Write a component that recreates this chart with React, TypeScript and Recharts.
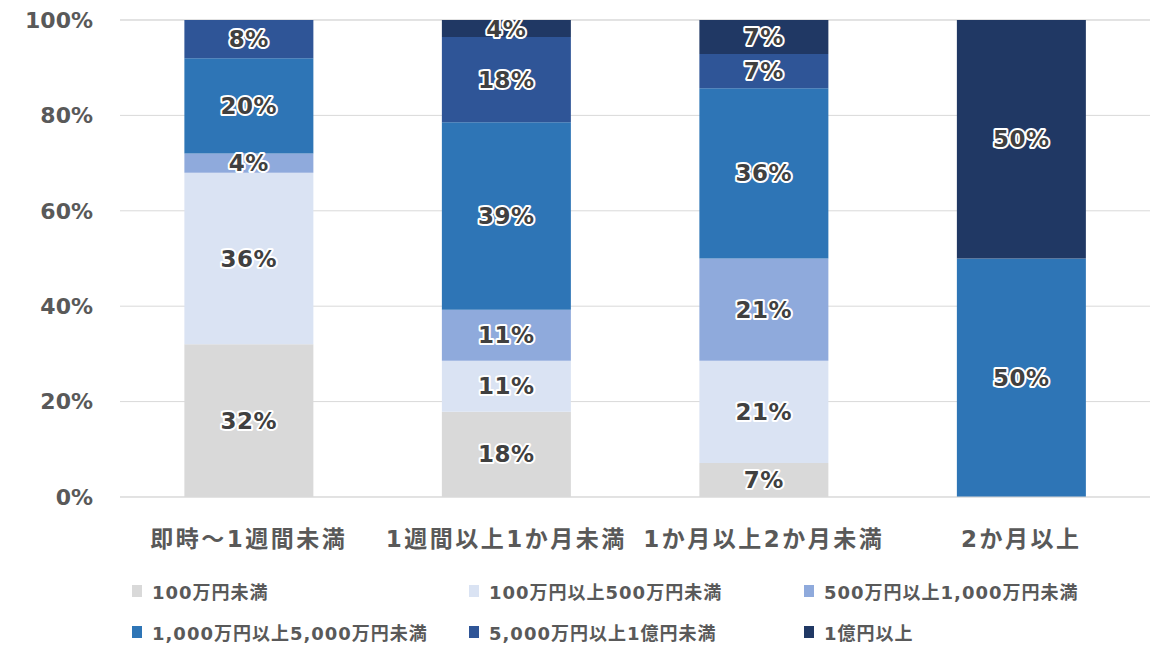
import React from 'react';
import { BarChart, Bar, XAxis, YAxis, CartesianGrid, LabelList } from 'recharts';

const categories = ['即時～1週間未満', '1週間以上1か月未満', '1か月以上2か月未満', '2か月以上'];

const under100 = [32, 17.86, 7.14, 0];
const from100to500 = [36, 10.71, 21.43, 0];
const from500to1000 = [4, 10.71, 21.43, 0];
const from1000to5000 = [20, 39.29, 35.71, 50];
const from5000to1oku = [8, 17.86, 7.14, 0];
const over1oku = [0, 3.57, 7.15, 50];

const seriesNames = [
  '100万円未満',
  '100万円以上500万円未満',
  '500万円以上1,000万円未満',
  '1,000万円以上5,000万円未満',
  '5,000万円以上1億円未満',
  '1億円以上',
];
const seriesColors = ['#D9D9D9', '#DAE3F3', '#8FAADC', '#2E75B6', '#2F5597', '#203864'];
const seriesValues = [under100, from100to500, from500to1000, from1000to5000, from5000to1oku, over1oku];

const yTicks = [0, 20, 40, 60, 80, 100];

const data = categories.map((name, i) => {
  const row: { [key: string]: string | number } = { name };
  seriesValues.forEach((vals, s) => {
    row[`s${s}`] = vals[i];
  });
  return row;
});

const FONT = '"DejaVu Sans", "Noto Sans CJK JP", sans-serif';

// white-outlined percentage label centred in each segment
const renderLabel = (props: any) => {
  const { x, y, width, height, value } = props;
  if (!value) return null;
  return (
    <text
      x={Number(x) + Number(width) / 2}
      y={Number(y) + Number(height) / 2}
      textAnchor="middle"
      dominantBaseline="central"
      fontFamily={FONT}
      fontSize={23}
      fontWeight="bold"
      letterSpacing={0.5}
      fill="#404040"
      stroke="#ffffff"
      strokeWidth={4}
      strokeLinejoin="round"
      paintOrder="stroke"
    >
      {Math.round(value)}%
    </text>
  );
};

const App: React.FC = () => {
  return (
    <div style={{ position: 'absolute', left: 0, top: 0, width: 1171, height: 662, background: '#fff', fontFamily: FONT }}>
      <BarChart
        width={1171}
        height={560}
        data={data}
        margin={{ top: 20, right: 21, bottom: 0, left: 0 }}
        barCategoryGap="25%"
      >
        <CartesianGrid vertical={false} stroke="#D9D9D9" />
        <XAxis
          dataKey="name"
          height={63}
          axisLine={{ stroke: '#D9D9D9' }}
          tickLine={false}
          tickSize={0}
          tickMargin={34}
          tick={{ fill: '#595959', fontSize: 23, fontWeight: 'bold', fontFamily: FONT, letterSpacing: 2.5 }}
        />
        <YAxis
          width={120}
          domain={[0, 100]}
          ticks={yTicks}
          tickFormatter={(v: number) => `${v}%`}
          axisLine={false}
          tickLine={false}
          tickSize={0}
          tickMargin={27}
          tick={{ fill: '#595959', fontSize: 22, fontWeight: 'bold', fontFamily: FONT }}
        />
        {seriesNames.map((n, s) => (
          <Bar key={n} dataKey={`s${s}`} name={n} stackId="a" fill={seriesColors[s]} isAnimationActive={false}>
            <LabelList dataKey={`s${s}`} content={renderLabel} />
          </Bar>
        ))}
      </BarChart>
      <div
        style={{
          position: 'absolute',
          left: 132,
          top: 580,
          display: 'grid',
          gridTemplateColumns: '337px 335px 340px',
          rowGap: 19,
        }}
      >
        {seriesNames.map((n, s) => (
          <div key={n} style={{ display: 'flex', alignItems: 'center', height: 22 }}>
            <span style={{ display: 'inline-block', width: 10, height: 12, background: seriesColors[s], marginRight: 10 }} />
            <span style={{ fontSize: 18, fontWeight: 'bold', color: '#595959', letterSpacing: 1 }}>{n}</span>
          </div>
        ))}
      </div>
    </div>
  );
};

export default App;
